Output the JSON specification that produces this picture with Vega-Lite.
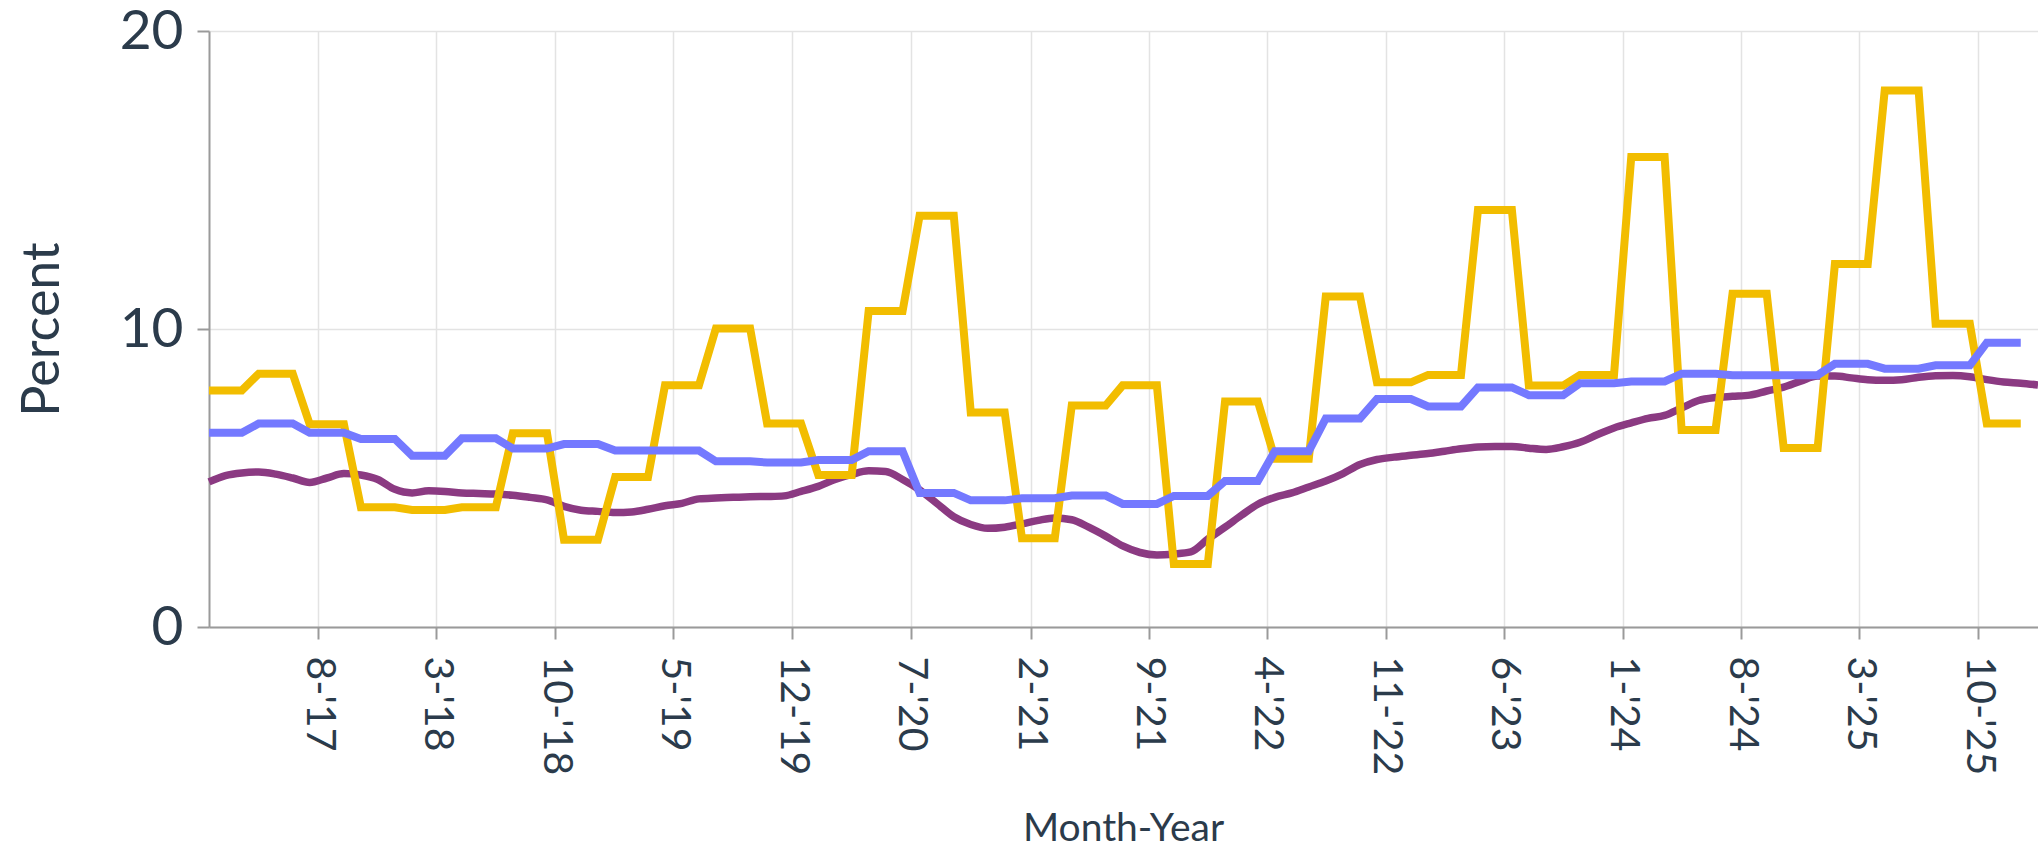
{
  "$schema": "https://vega.github.io/schema/vega-lite/v6.json",
  "width": 1829,
  "height": 596,
  "autosize": {"type": "none"},
  "padding": {"left": 209, "top": 31, "right": 0, "bottom": 221},
  "background": "white",
  "config": {
    "view": {"stroke": null},
    "font": "Lato",
    "axis": {
      "gridColor": "#e3e3e3",
      "gridWidth": 1.5,
      "domainColor": "#9a9a9a",
      "domainWidth": 2,
      "tickColor": "#9a9a9a",
      "tickWidth": 2,
      "tickSize": 12,
      "labelColor": "#2b3b4b",
      "titleColor": "#2b3b4b",
      "labelFont": "Lato",
      "titleFont": "Lato",
      "titleFontWeight": "normal"
    }
  },
  "data": {
    "values": [
      {"d": "2017-01-01", "y": 7.94, "b": 6.52, "p": 4.87},
      {"d": "2017-02-01", "y": 7.94, "b": 6.52, "p": 5.08},
      {"d": "2017-03-01", "y": 7.94, "b": 6.52, "p": 5.17},
      {"d": "2017-04-01", "y": 8.5, "b": 6.83, "p": 5.2},
      {"d": "2017-05-01", "y": 8.5, "b": 6.83, "p": 5.13},
      {"d": "2017-06-01", "y": 8.5, "b": 6.83, "p": 5.0},
      {"d": "2017-07-01", "y": 6.8, "b": 6.52, "p": 4.85},
      {"d": "2017-08-01", "y": 6.8, "b": 6.52, "p": 5.0},
      {"d": "2017-09-01", "y": 6.8, "b": 6.52, "p": 5.15},
      {"d": "2017-10-01", "y": 4.02, "b": 6.31, "p": 5.1},
      {"d": "2017-11-01", "y": 4.02, "b": 6.31, "p": 4.95},
      {"d": "2017-12-01", "y": 4.02, "b": 6.31, "p": 4.62},
      {"d": "2018-01-01", "y": 3.93, "b": 5.75, "p": 4.5},
      {"d": "2018-02-01", "y": 3.93, "b": 5.75, "p": 4.57},
      {"d": "2018-03-01", "y": 3.93, "b": 5.75, "p": 4.55},
      {"d": "2018-04-01", "y": 4.02, "b": 6.33, "p": 4.5},
      {"d": "2018-05-01", "y": 4.02, "b": 6.33, "p": 4.48},
      {"d": "2018-06-01", "y": 4.02, "b": 6.33, "p": 4.46},
      {"d": "2018-07-01", "y": 6.5, "b": 5.99, "p": 4.42},
      {"d": "2018-08-01", "y": 6.5, "b": 5.99, "p": 4.35},
      {"d": "2018-09-01", "y": 6.5, "b": 5.99, "p": 4.27},
      {"d": "2018-10-01", "y": 2.93, "b": 6.14, "p": 4.05},
      {"d": "2018-11-01", "y": 2.93, "b": 6.14, "p": 3.92},
      {"d": "2018-12-01", "y": 2.93, "b": 6.14, "p": 3.88},
      {"d": "2019-01-01", "y": 5.03, "b": 5.92, "p": 3.84},
      {"d": "2019-02-01", "y": 5.03, "b": 5.92, "p": 3.86},
      {"d": "2019-03-01", "y": 5.03, "b": 5.92, "p": 3.95},
      {"d": "2019-04-01", "y": 8.11, "b": 5.92, "p": 4.07},
      {"d": "2019-05-01", "y": 8.11, "b": 5.92, "p": 4.15},
      {"d": "2019-06-01", "y": 8.11, "b": 5.92, "p": 4.3},
      {"d": "2019-07-01", "y": 10.02, "b": 5.56, "p": 4.33},
      {"d": "2019-08-01", "y": 10.02, "b": 5.56, "p": 4.35},
      {"d": "2019-09-01", "y": 10.02, "b": 5.56, "p": 4.37},
      {"d": "2019-10-01", "y": 6.83, "b": 5.52, "p": 4.38},
      {"d": "2019-11-01", "y": 6.83, "b": 5.52, "p": 4.4},
      {"d": "2019-12-01", "y": 6.83, "b": 5.52, "p": 4.55},
      {"d": "2020-01-01", "y": 5.1, "b": 5.6, "p": 4.72},
      {"d": "2020-02-01", "y": 5.1, "b": 5.6, "p": 4.95},
      {"d": "2020-03-01", "y": 5.1, "b": 5.6, "p": 5.12},
      {"d": "2020-04-01", "y": 10.6, "b": 5.9, "p": 5.24},
      {"d": "2020-05-01", "y": 10.6, "b": 5.9, "p": 5.22},
      {"d": "2020-06-01", "y": 10.6, "b": 5.9, "p": 4.95},
      {"d": "2020-07-01", "y": 13.8, "b": 4.5, "p": 4.6},
      {"d": "2020-08-01", "y": 13.8, "b": 4.5, "p": 4.15},
      {"d": "2020-09-01", "y": 13.8, "b": 4.5, "p": 3.7},
      {"d": "2020-10-01", "y": 7.2, "b": 4.25, "p": 3.44},
      {"d": "2020-11-01", "y": 7.2, "b": 4.25, "p": 3.31},
      {"d": "2020-12-01", "y": 7.2, "b": 4.25, "p": 3.35},
      {"d": "2021-01-01", "y": 2.98, "b": 4.32, "p": 3.46},
      {"d": "2021-02-01", "y": 2.98, "b": 4.32, "p": 3.58},
      {"d": "2021-03-01", "y": 2.98, "b": 4.32, "p": 3.66},
      {"d": "2021-04-01", "y": 7.43, "b": 4.41, "p": 3.6},
      {"d": "2021-05-01", "y": 7.43, "b": 4.41, "p": 3.35},
      {"d": "2021-06-01", "y": 7.43, "b": 4.41, "p": 3.05},
      {"d": "2021-07-01", "y": 8.11, "b": 4.13, "p": 2.72},
      {"d": "2021-08-01", "y": 8.11, "b": 4.13, "p": 2.5},
      {"d": "2021-09-01", "y": 8.11, "b": 4.13, "p": 2.42},
      {"d": "2021-10-01", "y": 2.11, "b": 4.4, "p": 2.45},
      {"d": "2021-11-01", "y": 2.11, "b": 4.4, "p": 2.52},
      {"d": "2021-12-01", "y": 2.11, "b": 4.4, "p": 2.95},
      {"d": "2022-01-01", "y": 7.57, "b": 4.9, "p": 3.35},
      {"d": "2022-02-01", "y": 7.57, "b": 4.9, "p": 3.75},
      {"d": "2022-03-01", "y": 7.57, "b": 4.9, "p": 4.12},
      {"d": "2022-04-01", "y": 5.65, "b": 5.9, "p": 4.35},
      {"d": "2022-05-01", "y": 5.65, "b": 5.9, "p": 4.5},
      {"d": "2022-06-01", "y": 5.65, "b": 5.9, "p": 4.7},
      {"d": "2022-07-01", "y": 11.09, "b": 7.0, "p": 4.9},
      {"d": "2022-08-01", "y": 11.09, "b": 7.0, "p": 5.15},
      {"d": "2022-09-01", "y": 11.09, "b": 7.0, "p": 5.45},
      {"d": "2022-10-01", "y": 8.21, "b": 7.65, "p": 5.62},
      {"d": "2022-11-01", "y": 8.21, "b": 7.65, "p": 5.7},
      {"d": "2022-12-01", "y": 8.21, "b": 7.65, "p": 5.76},
      {"d": "2023-01-01", "y": 8.46, "b": 7.4, "p": 5.82},
      {"d": "2023-02-01", "y": 8.46, "b": 7.4, "p": 5.9},
      {"d": "2023-03-01", "y": 8.46, "b": 7.4, "p": 5.98},
      {"d": "2023-04-01", "y": 13.99, "b": 8.04, "p": 6.04},
      {"d": "2023-05-01", "y": 13.99, "b": 8.04, "p": 6.06},
      {"d": "2023-06-01", "y": 13.99, "b": 8.04, "p": 6.06},
      {"d": "2023-07-01", "y": 8.1, "b": 7.78, "p": 6.0},
      {"d": "2023-08-01", "y": 8.1, "b": 7.78, "p": 5.96},
      {"d": "2023-09-01", "y": 8.1, "b": 7.78, "p": 6.05},
      {"d": "2023-10-01", "y": 8.46, "b": 8.18, "p": 6.2},
      {"d": "2023-11-01", "y": 8.46, "b": 8.18, "p": 6.45},
      {"d": "2023-12-01", "y": 8.46, "b": 8.18, "p": 6.68},
      {"d": "2024-01-01", "y": 15.77, "b": 8.24, "p": 6.85},
      {"d": "2024-02-01", "y": 15.77, "b": 8.24, "p": 7.0},
      {"d": "2024-03-01", "y": 15.77, "b": 8.24, "p": 7.1},
      {"d": "2024-04-01", "y": 6.61, "b": 8.5, "p": 7.35},
      {"d": "2024-05-01", "y": 6.61, "b": 8.5, "p": 7.6},
      {"d": "2024-06-01", "y": 6.61, "b": 8.5, "p": 7.7},
      {"d": "2024-07-01", "y": 11.18, "b": 8.45, "p": 7.74},
      {"d": "2024-08-01", "y": 11.18, "b": 8.45, "p": 7.78},
      {"d": "2024-09-01", "y": 11.18, "b": 8.45, "p": 7.92},
      {"d": "2024-10-01", "y": 6.01, "b": 8.45, "p": 8.05},
      {"d": "2024-11-01", "y": 6.01, "b": 8.45, "p": 8.25},
      {"d": "2024-12-01", "y": 6.01, "b": 8.45, "p": 8.42},
      {"d": "2025-01-01", "y": 12.18, "b": 8.83, "p": 8.42},
      {"d": "2025-02-01", "y": 12.18, "b": 8.83, "p": 8.36},
      {"d": "2025-03-01", "y": 12.18, "b": 8.83, "p": 8.3},
      {"d": "2025-04-01", "y": 18.0, "b": 8.67, "p": 8.28},
      {"d": "2025-05-01", "y": 18.0, "b": 8.67, "p": 8.3},
      {"d": "2025-06-01", "y": 18.0, "b": 8.67, "p": 8.38},
      {"d": "2025-07-01", "y": 10.18, "b": 8.78, "p": 8.43},
      {"d": "2025-08-01", "y": 10.18, "b": 8.78, "p": 8.44},
      {"d": "2025-09-01", "y": 10.18, "b": 8.78, "p": 8.4},
      {"d": "2025-10-01", "y": 6.83, "b": 9.54, "p": 8.3},
      {"d": "2025-11-01", "y": 6.83, "b": 9.54, "p": 8.22},
      {"d": "2025-12-01", "y": 6.83, "b": 9.54, "p": 8.18},
      {"d": "2026-01-01", "p": 8.12}
    ]
  },
  "encoding": {
    "x": {
      "field": "d",
      "type": "temporal",
      "timeUnit": "utcyearmonth",
      "bandPosition": 0.5,
      "scale": {
        "type": "utc",
        "domain": [
          {"year": 2017, "month": 1, "date": 16, "hours": 12, "utc": true},
          {"year": 2026, "month": 1, "date": 16, "hours": 12, "utc": true}
        ]
      },
      "axis": {
        "values": [
          {"year": 2017, "month": 8, "date": 1, "utc": true},
          {"year": 2018, "month": 3, "date": 1, "utc": true},
          {"year": 2018, "month": 10, "date": 1, "utc": true},
          {"year": 2019, "month": 5, "date": 1, "utc": true},
          {"year": 2019, "month": 12, "date": 1, "utc": true},
          {"year": 2020, "month": 7, "date": 1, "utc": true},
          {"year": 2021, "month": 2, "date": 1, "utc": true},
          {"year": 2021, "month": 9, "date": 1, "utc": true},
          {"year": 2022, "month": 4, "date": 1, "utc": true},
          {"year": 2022, "month": 11, "date": 1, "utc": true},
          {"year": 2023, "month": 6, "date": 1, "utc": true},
          {"year": 2024, "month": 1, "date": 1, "utc": true},
          {"year": 2024, "month": 8, "date": 1, "utc": true},
          {"year": 2025, "month": 3, "date": 1, "utc": true},
          {"year": 2025, "month": 10, "date": 1, "utc": true}
        ],
        "labelExpr": "utcFormat(datum.value, \"%-m-'%y\")",
        "labelAngle": 90,
        "labelAlign": "left",
        "labelBaseline": "middle",
        "labelFontSize": 41,
        "labelPadding": 17,
        "grid": true,
        "title": "Month-Year",
        "titleFontSize": 39,
        "titleX": 914,
        "titleY": 213,
        "titleBaseline": "alphabetic",
        "titleAlign": "center"
      }
    }
  },
  "layer": [
    {
      "mark": {"type": "line", "color": "#8B3A82", "strokeWidth": 7.5, "interpolate": "monotone"},
      "encoding": {
        "y": {
          "field": "p",
          "type": "quantitative",
          "scale": {"domain": [0, 20]},
          "axis": {
            "values": [0, 10, 20],
            "grid": true,
            "labelFontSize": 55,
            "labelPadding": 14,
            "title": "Percent",
            "titleFontSize": 52,
            "titleAngle": -90,
            "titleX": -151,
            "titleY": 298,
            "titleBaseline": "alphabetic",
            "titleAlign": "center"
          }
        }
      }
    },
    {
      "mark": {"type": "line", "color": "#F2BD00", "strokeWidth": 8},
      "encoding": {"y": {"field": "y", "type": "quantitative"}}
    },
    {
      "mark": {"type": "line", "color": "#7479FF", "strokeWidth": 8},
      "encoding": {"y": {"field": "b", "type": "quantitative"}}
    }
  ]
}
